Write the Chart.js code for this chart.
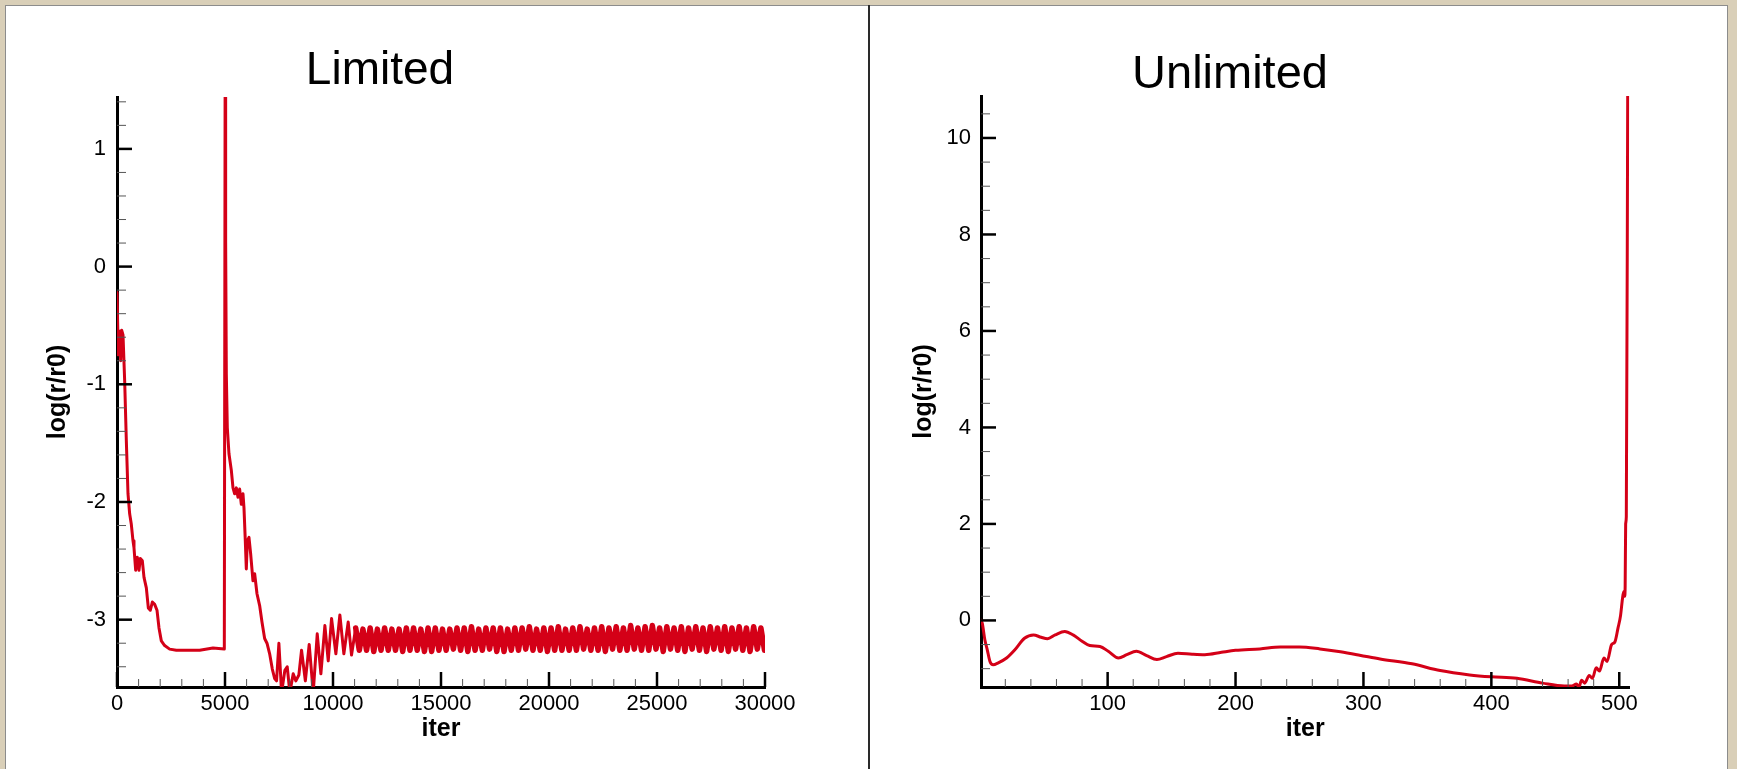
<!DOCTYPE html>
<html>
<head>
<meta charset="utf-8">
<title>log(r/r0) vs iter - Limited / Unlimited</title>
<script src="https://cdn.jsdelivr.net/npm/chart.js@4.4.1/dist/chart.umd.min.js"></script>
<style>
  html, body { margin: 0; padding: 0; }
  body { width: 1737px; height: 769px; background: #d9cfb8; position: relative; overflow: hidden; }
  #sheet { position: absolute; left: 5px; top: 5px; width: 1723px; height: 764px; background: #fff;
           border: 1px solid #8c8c8c; border-bottom: none; box-sizing: border-box; }
  #divider { position: absolute; left: 868px; top: 5px; width: 2px; height: 764px; background: #2a2a2a; }
  canvas { position: absolute; top: 0; }
  #limitedChart { left: 0; }
  #unlimitedChart { left: 870px; }
</style>
</head>
<body>
<div id="sheet"></div>
<div id="divider"></div>
<canvas id="limitedChart" width="869" height="769"></canvas>
<canvas id="unlimitedChart" width="867" height="769"></canvas>

<script>
// ---- data ----
// Limited: residual history over 30000 iterations (restart at 5000)
const limitedIter = [
  0, 60, 120, 170, 216, 278, 355, 432, 509, 586,
  663, 741, 787, 864, 941, 1018, 1080, 1173, 1250, 1358,
  1450, 1543, 1636, 1744, 1852, 1944, 2052, 2206, 2438, 2747,
  3209, 3827, 4444, 4968, 4995,
  5005, 5030, 5061, 5107, 5184, 5292, 5370, 5447, 5524, 5601,
  5678, 5755, 5833, 5879, 5940, 5987, 6033, 6110, 6187, 6295,
  6373, 6481, 6604, 6712, 6835, 6944, 7067, 7190, 7300, 7387,
  7495, 7619, 7772, 7880, 8003, 8157, 8281, 8420, 8544, 8720,
  8898, 9084, 9270, 9439, 9624, 9779, 9933, 10133, 10318, 10503,
  10704, 10858,
  11050, 11218, 11385, 11553, 11720, 11888, 12055, 12223, 12390, 12558,
  12725, 12893, 13060, 13228, 13395, 13563, 13730, 13898, 14065, 14233,
  14400, 14568, 14735, 14903, 15070, 15238, 15405, 15573, 15740, 15908,
  16075, 16243, 16410, 16578, 16745, 16913, 17080, 17248, 17415, 17583,
  17750, 17918, 18085, 18253, 18420, 18588, 18755, 18923, 19090, 19258,
  19425, 19593, 19760, 19928, 20095, 20263, 20430, 20598, 20765, 20933,
  21100, 21268, 21435, 21603, 21770, 21938, 22105, 22273, 22440, 22608,
  22775, 22943, 23110, 23278, 23445, 23613, 23780, 23948, 24115, 24283,
  24450, 24618, 24785, 24953, 25120, 25288, 25455, 25623, 25790, 25958,
  26125, 26293, 26460, 26628, 26795, 26963, 27130, 27298, 27465, 27633,
  27800, 27968, 28135, 28303, 28470, 28638, 28805, 28973, 29140, 29308,
  29475, 29643, 29810, 29978, 30000
];
const limitedLog = [
  -0.22, -0.75, -0.55, -0.80, -0.54, -0.58, -0.97, -1.48, -1.93, -2.10,
  -2.19, -2.33, -2.39, -2.58, -2.47, -2.58, -2.48, -2.50, -2.64, -2.73,
  -2.90, -2.92, -2.85, -2.87, -2.92, -3.07, -3.18, -3.22, -3.25, -3.26,
  -3.26, -3.26, -3.24, -3.25, -3.25,
  1.44, 0.22, -0.91, -1.37, -1.59, -1.73, -1.88, -1.93, -1.88, -1.96,
  -1.89, -2.02, -1.93, -2.05, -2.33, -2.57, -2.33, -2.30, -2.44, -2.67,
  -2.61, -2.78, -2.88, -3.02, -3.16, -3.20, -3.29, -3.42, -3.50, -3.52,
  -3.20, -3.62, -3.43, -3.40, -3.62, -3.46, -3.52, -3.47, -3.26, -3.52,
  -3.21, -3.62, -3.12, -3.46, -3.05, -3.35, -2.99, -3.29, -2.96, -3.29,
  -3.02, -3.30,
  -3.07, -3.26, -3.08, -3.26, -3.07, -3.27, -3.08, -3.26, -3.07, -3.26,
  -3.08, -3.26, -3.08, -3.27, -3.07, -3.26, -3.07, -3.26, -3.08, -3.27,
  -3.07, -3.27, -3.07, -3.26, -3.08, -3.26, -3.08, -3.25, -3.07, -3.26,
  -3.07, -3.27, -3.06, -3.26, -3.08, -3.26, -3.07, -3.25, -3.07, -3.27,
  -3.07, -3.27, -3.08, -3.26, -3.07, -3.26, -3.07, -3.25, -3.06, -3.26,
  -3.08, -3.26, -3.07, -3.27, -3.07, -3.26, -3.06, -3.26, -3.08, -3.26,
  -3.07, -3.26, -3.06, -3.25, -3.08, -3.26, -3.07, -3.26, -3.06, -3.27,
  -3.07, -3.25, -3.06, -3.26, -3.07, -3.26, -3.05, -3.25, -3.07, -3.26,
  -3.06, -3.26, -3.05, -3.25, -3.07, -3.27, -3.06, -3.25, -3.07, -3.26,
  -3.06, -3.27, -3.07, -3.25, -3.06, -3.26, -3.07, -3.27, -3.06, -3.25,
  -3.07, -3.26, -3.06, -3.27, -3.07, -3.25, -3.06, -3.26, -3.07, -3.27,
  -3.06, -3.25, -3.07, -3.26, -3.17
];

// Unlimited: diverges after ~500 iterations
const unlimitedIter = [
  1, 2, 4, 6, 8, 10.5, 14.5, 21, 27.5, 35,
  42, 48, 53, 59, 66.5, 73, 80, 86, 94, 100.5,
  108.5, 115, 122.5, 130.5, 138.5, 146, 155, 166, 176, 189,
  200, 219, 235, 250, 266, 282, 297, 313, 338, 360,
  383, 400, 420, 440, 457, 463, 466.5, 468.5, 470.5, 473,
  476.5, 479, 482, 484.5, 488, 490.5, 494, 496.5, 499, 501,
  502.5, 503.5, 504.2, 504.6, 505, 505.5, 506.6
];
const unlimitedLog = [
  0.0, -0.06, -0.40, -0.62, -0.85, -0.92, -0.88, -0.78, -0.61, -0.37,
  -0.30, -0.35, -0.38, -0.30, -0.23, -0.30, -0.43, -0.52, -0.54, -0.64,
  -0.78, -0.71, -0.64, -0.73, -0.81, -0.75, -0.68, -0.70, -0.71, -0.66,
  -0.62, -0.59, -0.55, -0.55, -0.59, -0.65, -0.72, -0.80, -0.90, -1.04,
  -1.13, -1.17, -1.20, -1.30, -1.36, -1.36, -1.32, -1.38, -1.24, -1.30,
  -1.14, -1.20, -0.98, -1.05, -0.78, -0.85, -0.50, -0.45, -0.16, 0.10,
  0.45, 0.60, 0.50, 0.70, 2.00, 2.15, 11.0
];

const titles = ["Limited", "Unlimited"];
const xTitle = "iter";
const yTitle = "log(r/r0)";

// ---- drawing ----
Chart.defaults.font.family = "'Liberation Sans', Arial, Helvetica, sans-serif";
Chart.defaults.color = "#000";

const LINE_RED = "#d40017";
const isMajor = (v, step) => Math.abs(v / step - Math.round(v / step)) < 1e-6;

// tecplot style ticks: drawn inward from the axis, long majors + short minors
const insideTicks = {
  id: "insideTicks",
  afterDraw(chart, args, opts) {
    const { ctx, chartArea } = chart;
    const xs = chart.scales.x, ys = chart.scales.y;
    ctx.save();
    xs.ticks.forEach(t => {
      const major = isMajor(t.value, opts.xMajor);
      const px = xs.getPixelForValue(t.value);
      ctx.beginPath();
      ctx.lineWidth = major ? 2.5 : 1;
      ctx.strokeStyle = major ? "#000" : "#555";
      ctx.moveTo(px, chartArea.bottom);
      ctx.lineTo(px, chartArea.bottom - (major ? 15 : 8));
      ctx.stroke();
    });
    ys.ticks.forEach(t => {
      const major = isMajor(t.value, opts.yMajor);
      const py = ys.getPixelForValue(t.value);
      ctx.beginPath();
      ctx.lineWidth = major ? 2.5 : 1;
      ctx.strokeStyle = major ? "#000" : "#555";
      ctx.moveTo(chartArea.left, py);
      ctx.lineTo(chartArea.left + (major ? 15 : 9), py);
      ctx.stroke();
    });
    ctx.restore();
  }
};

// panel heading, placed where the original frame had it
const panelTitle = {
  id: "panelTitle",
  afterDraw(chart, args, opts) {
    const { ctx } = chart;
    ctx.save();
    ctx.font = `${opts.size}px 'Liberation Sans', Arial, sans-serif`;
    ctx.fillStyle = "#000";
    ctx.textAlign = "center";
    ctx.textBaseline = "alphabetic";
    ctx.fillText(opts.text, opts.x, opts.y);
    ctx.restore();
  }
};

function makeChart(canvasId, cfg) {
  const points = cfg.iters.map((x, i) => ({ x: x, y: cfg.values[i] }));

  return new Chart(document.getElementById(canvasId), {
    type: "line",
    data: {
      datasets: [{
        data: points,
        borderColor: LINE_RED,
        borderWidth: 3,
        borderJoinStyle: "round",
        borderCapStyle: "round",
        pointRadius: 0,
        tension: 0,
        cubicInterpolationMode: cfg.smooth ? "monotone" : "default",
        fill: false,
        clip: 0,
        // the dense limit cycle reads as a thick solid band in the original
        segment: {
          borderWidth: c => (cfg.bandFrom != null && c.p0.parsed.x >= cfg.bandFrom) ? 5.5 : 3
        }
      }]
    },
    options: {
      responsive: false,
      animation: false,
      events: [],
      layout: { padding: { left: 0, right: cfg.padRight, top: cfg.padTop, bottom: 0 } },
      plugins: {
        legend: { display: false },
        tooltip: { enabled: false },
        insideTicks: { xMajor: cfg.xMajor, yMajor: cfg.yMajor },
        panelTitle: { text: cfg.title, x: cfg.titleX, y: cfg.titleY, size: cfg.titleSize }
      },
      scales: {
        x: {
          type: "linear",
          min: cfg.xMin,
          max: cfg.xMax,
          afterFit: s => { s.height = 82; },
          grid: { drawOnChartArea: false, drawTicks: false },
          border: { display: true, color: "#000", width: 3 },
          ticks: {
            stepSize: cfg.xStep,
            includeBounds: false,
            autoSkip: false,
            maxRotation: 0,
            minRotation: 0,
            padding: 4,
            font: { size: 22 },
            callback: v => isMajor(v, cfg.xMajor) ? String(Math.round(v)) : ""
          },
          title: {
            display: true,
            text: xTitle,
            font: { size: 25, weight: "bold" },
            padding: { top: 0, bottom: 25 }
          }
        },
        y: {
          type: "linear",
          min: cfg.yMin,
          max: cfg.yMax,
          afterFit: s => { s.width = cfg.yWidth; },
          grid: { drawOnChartArea: false, drawTicks: false },
          border: { display: true, color: "#000", width: 3 },
          ticks: {
            stepSize: cfg.yStep,
            includeBounds: false,
            autoSkip: false,
            padding: cfg.yTickPad,
            font: { size: 22 },
            callback: v => isMajor(v, cfg.yMajor) ? String(Math.round(v)) : ""
          },
          title: {
            display: true,
            text: yTitle,
            font: { size: 25, weight: "bold" },
            padding: { top: cfg.yTitlePad, bottom: 0 }
          }
        }
      }
    },
    plugins: [insideTicks, panelTitle]
  });
}

makeChart("limitedChart", {
  iters: limitedIter, values: limitedLog, smooth: false, bandFrom: 11000,
  xMin: 0, xMax: 30000, xStep: 1000, xMajor: 5000,
  yMin: -3.572, yMax: 1.441, yStep: 0.2, yMajor: 1,
  yWidth: 117, padRight: 104, padTop: 97, yTickPad: 11, yTitlePad: 43,
  title: titles[0], titleX: 380, titleY: 84, titleSize: 46
});

makeChart("unlimitedChart", {
  iters: unlimitedIter, values: unlimitedLog, smooth: true, bandFrom: null,
  xMin: 1, xMax: 508, xStep: 20, xMajor: 100,
  yMin: -1.38, yMax: 10.87, yStep: 0.5, yMajor: 2,
  yWidth: 111, padRight: 107.5, padTop: 96, yTickPad: 10, yTitlePad: 39,
  title: titles[1], titleX: 360, titleY: 88, titleSize: 47
});
</script>
</body>
</html>
